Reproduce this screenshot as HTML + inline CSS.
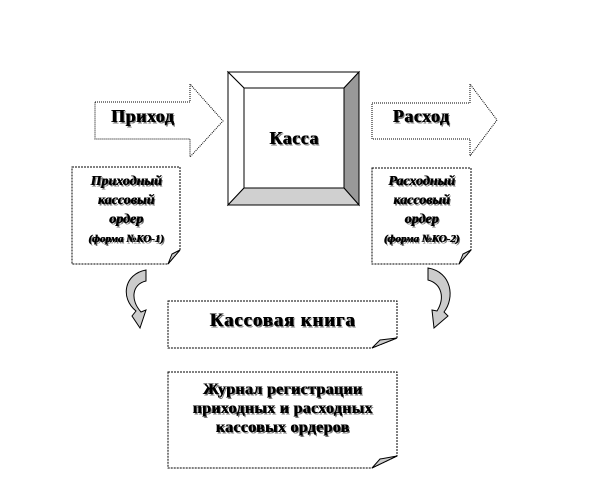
<!DOCTYPE html>
<html><head><meta charset="utf-8"><style>
body{margin:0;background:#fff;width:612px;height:480px;overflow:hidden;position:relative;font-family:"Liberation Serif","DejaVu Serif",serif}
.t{position:absolute;text-align:center;font-weight:bold;color:#000;text-shadow:0.6px 0 0 #000,1.5px 1.5px 0 #777;white-space:nowrap}
</style></head><body>
<svg width="612" height="480" style="position:absolute;left:0;top:0">
<g stroke="#000" stroke-width="1" fill="#fff">
<polygon points="95,102 190,102 190,84 223,121 190,157 190,139 95,139" stroke-dasharray="1,1"/>
<polygon points="372,103 470,103 470,84 497,120 470,156 470,139 372,139" stroke-dasharray="1,1"/>
</g>
<g stroke="#000" stroke-width="1">
<polygon points="228,72 359,72 344,88 244,88" fill="#fff"/>
<polygon points="228,72 244,88 244,188 228,205" fill="#fff"/>
<polygon points="359,72 359,205 344,188 344,88" fill="#999"/>
<polygon points="228,205 359,205 344,188 244,188" fill="#d0d0d0"/>
<rect x="244" y="88" width="100" height="100" fill="#fff"/>
</g>
<g stroke="#000" stroke-width="1" fill="#fff">
<path d="M72,167 H180 V250 L168,264 H72 Z" stroke-dasharray="2,1"/>
<path d="M372,168 H471 V250 L459,264 H372 Z" stroke-dasharray="2,1"/>
<path d="M168,301 H397 V338 L372,348 H168 Z" stroke-dasharray="2,1"/>
<path d="M168,372 H397 V456 L372,468 H168 Z" stroke-dasharray="2,1"/>
</g>
<g stroke="#000" stroke-width="1" fill="#ccc">
<polygon points="180,250 168,264 172,254"/>
<polygon points="471,250 459,264 463,254"/>
<polygon points="397,338 372,348 380,340"/>
<polygon points="397,456 372,468 380,459"/>
<path d="M146,270 C124,274 120,298 136,311 L132,316 L140,328 L146,310 L141,312 C130,300 132,284 146,281 Z"/>
<path d="M428,268 C452,272 455,298 444,312 L448,316 L434,328 L432,310 L437,311 C445,298 442,284 428,280 Z"/>
</g>
</svg>
<div class="t" style="left:95px;top:106px;width:95px;font-size:18px;letter-spacing:0.5px">Приход</div>
<div class="t" style="left:372px;top:106px;width:98px;font-size:18px;letter-spacing:0.5px">Расход</div>
<div class="t" style="left:244px;top:128px;width:100px;font-size:18px;letter-spacing:0.5px">Касса</div>
<div class="t" style="left:72px;top:172px;width:108px;font-size:14px;font-style:italic;line-height:19px">Приходный<br>кассовый<br>ордер<br><span style="font-size:11px">(форма №КО-1)</span></div>
<div class="t" style="left:372px;top:172px;width:99px;font-size:14px;font-style:italic;line-height:19px">Расходный<br>кассовый<br>ордер<br><span style="font-size:11px">(форма №КО-2)</span></div>
<div class="t" style="left:168px;top:310px;width:229px;font-size:19px;letter-spacing:0.8px">Кассовая книга</div>
<div class="t" style="left:168px;top:380px;width:229px;font-size:16px;line-height:19px;letter-spacing:0.3px">Журнал регистрации<br>приходных и расходных<br>кассовых ордеров</div>
</body></html>
